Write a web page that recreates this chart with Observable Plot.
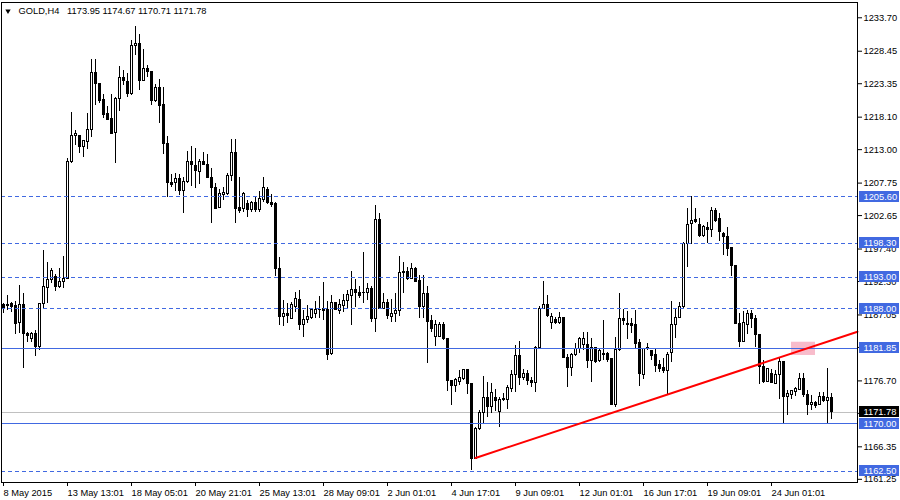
<!DOCTYPE html>
<html>
<head>
<meta charset="utf-8">
<script src="https://cdn.jsdelivr.net/npm/d3@7"></script>
<script src="https://cdn.jsdelivr.net/npm/@observablehq/plot@0.6"></script>
<style>
  html, body { margin: 0; padding: 0; background: #ffffff; }
  #chart svg { display: block; }
</style>
</head>
<body>
<div id="chart"></div>
<script>
// ---------------- data (GOLD, H4, 8 May – 25 Jun 2015) ----------------
const symbol = "GOLD";
const timeframe = "H4";

const open = [
1188.54,1188.64,1188.70,1188.38,1185.77,1188.64,1184.10,1183.31,1183.99,1182.01,
1188.80,1191.31,1192.56,1192.98,1191.41,1192.20,1192.72,1211.02,1215.09,1215.20,
1213.37,1214.15,1216.09,1225.02,1223.30,1220.79,1218.59,1217.86,1215.56,1220.95,
1224.24,1223.61,1221.68,1229.26,1229.57,1223.72,1225.65,1225.12,1220.68,1222.61,
1220.06,1213.89,1207.83,1207.72,1208.40,1206.47,1207.88,1211.12,1210.49,1209.55,
1211.12,1210.60,1208.56,1206.99,1203.85,1205.95,1206.05,1208.92,1212.48,1203.80,
1203.65,1204.48,1203.59,1204.64,1203.59,1205.16,1206.68,1204.69,1204.48,1194.29,
1186.71,1187.13,1186.45,1188.28,1189.43,1185.51,1186.29,1186.55,1187.23,1187.81,
1187.91,1187.76,1180.86,1188.85,1187.65,1188.44,1189.27,1190.00,1191.00,1190.53,
1190.47,1190.47,1191.15,1186.45,1201.97,1188.02,1188.96,1186.71,1187.18,1187.70,
1193.77,1193.77,1192.72,1194.29,1192.41,1188.23,1190.27,1186.03,1183.58,1183.58,
1185.41,1183.31,1176.62,1175.89,1176.52,1177.04,1178.45,1176.15,1164.50,1169.20,
1171.71,1174.06,1172.60,1174.01,1171.82,1173.75,1173.75,1175.47,1177.67,1180.54,
1177.15,1177.83,1176.68,1176.41,1181.90,1188.02,1188.54,1185.82,1186.19,1185.82,
1186.61,1180.34,1178.77,1180.70,1181.75,1182.27,1182.37,1179.81,1181.85,1179.81,
1180.96,1180.96,1180.07,1172.86,1181.49,1186.45,1185.41,1185.67,1185.41,1182.69,
1177.67,1181.64,1181.33,1180.70,1179.13,1178.72,1178.30,1181.12,1185.41,1186.61,
1188.28,1198.21,1201.35,1201.98,1201.19,1199.41,1200.72,1200.41,1203.44,1202.13,
1199.78,1199.36,1197.53,1194.81,1185.67,1182.79,1185.40,1187.23,1186.45,1183.94,
1178.87,1176.52,1177.72,1176.26,1177.67,1179.65,1174.17,1174.53,1174.95,1175.32,
1176.94,1174.43,1172.96,1173.28,1172.86,1174.11,1173.59,1173.95];

const high = [
1188.91,1190.11,1189.06,1189.17,1191.68,1190.37,1184.36,1184.36,1184.62,1188.91,
1197.16,1195.23,1194.29,1193.40,1194.29,1196.22,1211.54,1218.86,1215.98,1215.20,
1214.31,1218.70,1227.11,1227.11,1223.40,1221.73,1219.74,1221.63,1221.21,1226.02,
1225.49,1225.02,1230.20,1232.29,1231.03,1228.79,1226.17,1225.30,1223.15,1223.98,
1222.77,1215.04,1209.08,1209.19,1209.08,1208.56,1212.74,1213.47,1213.11,1211.38,
1212.58,1212.22,1209.97,1207.62,1206.68,1206.99,1209.19,1214.67,1214.67,1208.66,
1206.26,1205.00,1204.85,1205.53,1206.47,1208.56,1206.99,1205.95,1204.74,1196.12,
1189.32,1188.91,1188.96,1190.63,1190.89,1187.76,1188.54,1188.02,1189.17,1189.95,
1192.10,1189.17,1190.11,1188.96,1189.48,1190.27,1190.89,1193.87,1192.62,1191.57,
1196.80,1191.94,1191.57,1204.22,1202.92,1190.37,1189.48,1189.48,1190.37,1196.22,
1195.34,1194.55,1195.07,1194.55,1193.25,1193.25,1191.57,1186.97,1186.19,1185.93,
1185.93,1183.31,1176.78,1177.04,1178.35,1178.45,1178.51,1176.36,1169.36,1172.08,
1177.41,1176.52,1176.36,1175.32,1174.17,1174.69,1176.00,1178.35,1182.27,1182.95,
1178.45,1178.35,1177.30,1182.11,1188.38,1192.31,1190.11,1187.34,1186.61,1187.50,
1186.71,1180.86,1180.96,1182.53,1183.58,1184.36,1184.36,1183.42,1182.01,1181.75,
1186.19,1181.22,1180.18,1183.58,1190.37,1187.92,1187.60,1186.56,1187.76,1183.21,
1181.85,1182.53,1181.49,1181.85,1179.92,1180.18,1181.22,1189.17,1188.12,1188.96,
1198.37,1203.81,1205.64,1203.70,1202.13,1201.09,1201.61,1203.96,1203.70,1202.92,
1200.04,1200.82,1197.69,1194.81,1187.23,1187.60,1187.76,1187.76,1186.97,1183.94,
1179.92,1178.71,1178.50,1178.35,1180.18,1179.76,1175.21,1175.21,1175.74,1177.83,
1177.83,1175.21,1174.43,1173.49,1174.85,1174.85,1178.61,1174.67];

const low = [
1187.34,1187.76,1187.49,1183.94,1184.20,1178.71,1182.79,1182.79,1180.59,1181.48,
1188.02,1188.91,1191.94,1190.79,1191.15,1191.26,1192.72,1210.75,1213.63,1212.32,
1211.80,1212.95,1214.83,1219.90,1220.27,1217.91,1217.55,1215.35,1210.75,1219.01,
1223.04,1221.21,1221.57,1227.85,1222.25,1223.72,1224.34,1219.90,1220.42,1217.03,
1212.17,1205.53,1207.09,1206.47,1205.79,1203.02,1207.72,1207.20,1206.83,1207.46,
1210.49,1208.40,1201.35,1203.59,1203.70,1205.00,1205.79,1208.04,1201.35,1202.91,
1203.17,1202.39,1203.07,1203.07,1203.07,1204.74,1204.38,1203.85,1193.09,1185.40,
1185.24,1185.67,1186.35,1187.39,1184.62,1183.58,1185.67,1186.35,1186.45,1186.55,
1186.19,1179.92,1180.70,1187.76,1187.13,1187.50,1188.02,1185.40,1188.28,1189.59,
1188.91,1189.32,1185.93,1184.36,1188.02,1187.91,1186.35,1185.93,1185.82,1186.87,
1190.47,1192.46,1192.57,1192.20,1186.45,1186.45,1179.39,1184.36,1182.11,1183.58,
1183.05,1175.11,1172.76,1174.95,1176.00,1176.78,1174.59,1162.67,1164.34,1168.84,
1169.88,1171.03,1171.55,1171.82,1169.36,1173.54,1172.18,1174.95,1174.95,1176.00,
1176.78,1176.00,1175.74,1174.85,1181.75,1188.02,1186.71,1184.73,1185.56,1185.56,
1180.18,1175.63,1177.41,1180.54,1180.96,1181.49,1178.61,1176.52,1179.40,1179.66,
1179.92,1179.66,1172.76,1172.60,1181.33,1185.41,1183.21,1184.10,1181.75,1175.89,
1176.94,1181.49,1179.92,1178.09,1178.09,1177.83,1174.53,1179.66,1183.42,1186.45,
1188.12,1194.55,1198.06,1201.35,1199.26,1199.26,1198.21,1199.26,1201.61,1198.58,
1196.38,1196.28,1193.14,1185.51,1182.01,1182.69,1183.94,1184.99,1182.01,1176.10,
1176.26,1176.41,1176.26,1176.10,1173.80,1169.99,1171.19,1173.80,1174.32,1175.21,
1174.17,1171.29,1172.08,1172.44,1172.76,1173.38,1169.99,1170.71];

const close = [
1188.02,1188.43,1188.28,1185.66,1188.64,1184.10,1183.78,1183.99,1182.01,1188.80,
1191.41,1192.56,1193.92,1191.41,1192.30,1192.72,1211.02,1215.20,1215.46,1213.37,
1214.31,1216.09,1225.02,1223.30,1220.69,1218.49,1217.71,1215.46,1220.95,1224.24,
1223.72,1221.68,1229.31,1229.62,1223.72,1225.65,1225.13,1220.68,1222.61,1219.90,
1213.89,1207.72,1207.41,1208.40,1206.47,1207.98,1211.12,1210.60,1209.60,1211.12,
1210.60,1208.56,1206.94,1203.75,1206.05,1206.26,1208.92,1212.48,1203.70,1203.44,
1206.05,1203.59,1204.64,1203.59,1205.27,1206.99,1204.59,1204.38,1194.29,1186.71,
1187.23,1186.82,1188.54,1189.59,1185.40,1186.29,1186.66,1187.76,1187.86,1187.86,
1187.65,1180.70,1188.96,1187.81,1188.54,1189.27,1190.11,1191.00,1190.47,1190.00,
1190.53,1191.15,1186.45,1201.97,1188.02,1188.96,1186.87,1187.23,1187.70,1193.66,
1193.56,1192.72,1194.29,1192.30,1188.23,1190.27,1185.93,1184.88,1185.41,1185.41,
1183.31,1176.68,1175.89,1176.78,1177.20,1178.35,1176.26,1164.50,1169.20,1171.71,
1174.06,1172.60,1174.85,1173.54,1173.75,1173.91,1175.58,1177.67,1180.54,1177.15,
1177.83,1176.68,1176.41,1181.90,1188.02,1188.54,1186.87,1186.71,1185.82,1186.61,
1180.34,1178.77,1180.70,1181.75,1183.31,1183.32,1179.81,1181.85,1179.66,1181.33,
1180.70,1179.92,1172.86,1181.49,1186.45,1186.03,1185.67,1185.30,1182.53,1177.83,
1181.75,1181.85,1180.60,1179.03,1178.51,1178.30,1180.70,1185.41,1186.61,1188.28,
1198.21,1201.19,1201.87,1201.61,1199.41,1200.83,1200.41,1203.44,1201.87,1200.04,
1199.26,1197.43,1194.71,1185.67,1182.79,1185.82,1187.13,1186.45,1183.94,1178.87,
1176.52,1178.50,1176.41,1177.67,1179.65,1174.17,1174.69,1175.06,1175.37,1177.04,
1174.43,1172.86,1173.28,1172.76,1174.11,1173.54,1173.96,1171.78];

// time axis labels (bar index -> label)
const timeLabelIdx = [0, 16, 32, 48, 64, 80, 96, 112, 128, 144, 160, 176, 192];
const timeLabels = ["8 May 2015", "13 May 13:01", "18 May 05:01", "20 May 21:01",
  "25 May 13:01", "28 May 09:01", "2 Jun 01:01", "4 Jun 17:01", "9 Jun 09:01",
  "12 Jun 01:01", "16 Jun 17:01", "19 Jun 09:01", "24 Jun 01:01"];

// price scale ticks
const priceTicks = [1233.70, 1228.45, 1223.35, 1218.10, 1213.00, 1207.75, 1202.65,
  1197.40, 1192.30, 1187.05, 1181.95, 1176.70, 1171.60, 1166.35, 1161.25];

// horizontal level lines
const dashedLevels = [1205.60, 1198.30, 1193.00, 1188.00, 1162.50];
const solidLevels = [1181.85, 1170.00];

// trend line (bar index, price) and highlight rectangle
const trendIdx = [118, 213.5];
const trendPrice = [1164.60, 1184.42];
const zoneIdx = [197, 203];
const zonePrice = [1180.69, 1182.77];

// ---------------- layout constants ----------------
const W = 900, H = 500;
const M = {left: 1, right: 43, top: 2, bottom: 18};
const xDomain = [-0.5, 213.5];          // 4 px per bar
const yDomain = [1160.75, 1236.10];
const BLUE = "#4169e1";
const FONT = "'Liberation Sans', Arial, Helvetica, sans-serif";
const boxX = [214, 224];                // right price-label box, in bar units
const boxTextX = 215;
const boxHalf = 0.86;                   // half height of label box, in price units

// ---------------- build ----------------
const candles = open.map((o, i) => {
  const c = close[i];
  let top = Math.max(o, c), bot = Math.min(o, c);
  if (top - bot < 0.06) { const m = (top + bot) / 2; top = m + 0.03; bot = m - 0.03; }
  return {i, o, h: high[i], l: low[i], c, top, bot, bull: c >= o};
});
const last = candles[candles.length - 1];
const labelMap = new Map(timeLabelIdx.map((k, j) => [k, timeLabels[j]]));
const levelLabels = [...dashedLevels, ...solidLevels].map(p => ({p}));
const trend = trendIdx.map((t, j) => ({t, p: trendPrice[j]}));
const zone = [{x1: zoneIdx[0], x2: zoneIdx[1], y1: zonePrice[0], y2: zonePrice[1]}];
const header = `${symbol},${timeframe}\u00a0\u00a0\u00a0` +
  [last.o, last.h, last.l, last.c].map(v => v.toFixed(2)).join(" ");

const chart = Plot.plot({
  width: W, height: H,
  marginLeft: M.left, marginRight: M.right, marginTop: M.top, marginBottom: M.bottom,
  style: {fontFamily: FONT, fontSize: "9.3px", background: "#ffffff", color: "#000000"},
  x: {type: "linear", domain: xDomain, label: null},
  y: {type: "linear", domain: yDomain, label: null},
  marks: [
    Plot.rect(zone, {x1: "x1", x2: "x2", y1: "y1", y2: "y2", fill: "#f8bccb"}),
    Plot.ruleY([last.c], {stroke: "#c0c0c0", shapeRendering: "crispEdges"}),
    Plot.ruleX(candles, {x: "i", y1: "l", y2: "h", stroke: "#000", shapeRendering: "crispEdges"}),
    Plot.rect(candles.filter(d => d.bull), {x1: d => d.i - 0.25, x2: d => d.i + 0.25, y1: "bot", y2: "top",
      fill: "#fff", stroke: "#000", shapeRendering: "crispEdges"}),
    Plot.rect(candles.filter(d => !d.bull), {x1: d => d.i - 0.25, x2: d => d.i + 0.25, y1: "bot", y2: "top",
      fill: "#000", stroke: "#000", shapeRendering: "crispEdges"}),
    Plot.ruleY(dashedLevels, {stroke: BLUE, strokeDasharray: "4,3", shapeRendering: "crispEdges"}),
    Plot.ruleY(solidLevels, {stroke: BLUE, shapeRendering: "crispEdges"}),
    Plot.line(trend, {x: "t", y: "p", stroke: "#ff0000", strokeWidth: 2}),
    Plot.frame({stroke: "#000", shapeRendering: "crispEdges"}),
    Plot.axisY(priceTicks, {anchor: "right", tickSize: 4, tickPadding: 2, label: null,
      tickFormat: d => d.toFixed(2), fill: "#000"}),
    Plot.axisX(timeLabelIdx, {anchor: "bottom", tickSize: 4, tickPadding: 3, label: null,
      tickFormat: d => labelMap.get(d), textAnchor: "start", fill: "#000"}),
    Plot.rect(levelLabels, {x1: boxX[0], x2: boxX[1], y1: d => d.p - boxHalf, y2: d => d.p + boxHalf,
      fill: BLUE, shapeRendering: "crispEdges"}),
    Plot.text(levelLabels, {x: boxTextX, y: "p", text: d => d.p.toFixed(2), fill: "#fff",
      textAnchor: "start", lineAnchor: "middle"}),
    Plot.rect([last], {x1: boxX[0], x2: boxX[1], y1: d => d.c - boxHalf, y2: d => d.c + boxHalf,
      fill: "#000", shapeRendering: "crispEdges"}),
    Plot.text([last], {x: boxTextX, y: "c", text: d => d.c.toFixed(2), fill: "#fff",
      textAnchor: "start", lineAnchor: "middle"}),
    Plot.dot([header], {frameAnchor: "top-left", dx: 6.5, dy: 8.5, symbol: "triangle", r: 2,
      rotate: 180, fill: "#000", stroke: null}),
    Plot.text([header], {frameAnchor: "top-left", dx: 17, dy: 5, text: d => d,
      textAnchor: "start", lineAnchor: "top", fill: "#000"})
  ]
});
document.getElementById("chart").appendChild(chart);
</script>
</body>
</html>
